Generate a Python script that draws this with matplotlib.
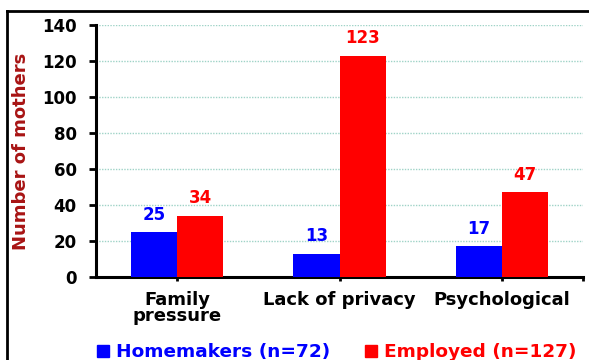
import matplotlib
matplotlib.use("Agg")
import matplotlib.pyplot as plt
from matplotlib.lines import Line2D
import numpy as np

plt.rcParams['font.family'] = ['DejaVu Sans']
plt.rcParams['font.weight'] = 'bold'

categories = ["Family\npressure", "Lack of privacy", "Psychological"]
homemakers = [25, 13, 17]
employed = [34, 123, 47]
series_labels = ["Homemakers (n=72)", "Employed (n=127)"]
yticks = [0, 20, 40, 60, 80, 100, 120, 140]

blue = "#0000ff"
red = "#ff0000"
dark_red = "#a81414"

fig = plt.figure(figsize=(5.89, 3.60), dpi=100)
ax = fig.add_axes([96/589, 1-277/360, (583-96)/589, (277-25)/360])

x = np.arange(len(categories))
w = 0.284
b1 = ax.bar(x - w/2, homemakers, w, color=blue, zorder=3)
b2 = ax.bar(x + w/2, employed, w, color=red, zorder=3)

for rect, v in zip(b1, homemakers):
    ax.annotate(str(v), (rect.get_x() + rect.get_width()/2, v), xytext=(0, 6),
                textcoords="offset points", ha="center", va="bottom",
                color=blue, fontsize=12, fontweight="bold")
for rect, v in zip(b2, employed):
    ax.annotate(str(v), (rect.get_x() + rect.get_width()/2, v), xytext=(0, 6),
                textcoords="offset points", ha="center", va="bottom",
                color=red, fontsize=12, fontweight="bold")

ax.set_xlim(-0.5, 2.5)
ax.set_ylim(0, 140)
ax.set_yticks(yticks)
ax.set_yticklabels([str(t) for t in yticks], fontsize=12, fontweight="bold")
ax.set_xticks(x)
ax.set_xticklabels(categories, fontsize=13, fontweight="bold", linespacing=0.9)
ax.set_xticks([2.5], minor=True)
ax.tick_params(axis='y', length=5, width=2, pad=9)
ax.tick_params(axis='x', which='both', length=3, width=2, pad=7)

ax.yaxis.grid(True, linestyle=(0, (1, 1)), color="#9fd3c7", linewidth=1.0, zorder=0)
ax.set_axisbelow(True)

for s in ['top', 'right']:
    ax.spines[s].set_visible(False)
ax.spines['left'].set_linewidth(2.2)
ax.spines['bottom'].set_linewidth(2.2)

ax.set_ylabel("Number of mothers", color=dark_red, fontsize=13, fontweight="bold")
ax.yaxis.set_label_coords(-0.136, 0.5)

handles = [Line2D([], [], linestyle='none', marker='s', markersize=8, color=blue),
           Line2D([], [], linestyle='none', marker='s', markersize=8, color=red)]
leg = fig.legend(handles, series_labels, loc='center', bbox_to_anchor=(336/589, 1-352/360),
                 ncol=2, frameon=False, handlelength=0.8, handletextpad=0.3,
                 columnspacing=1.8, prop={'weight': 'bold', 'size': 13.3},
                 labelcolor=[blue, red], borderpad=0)

# figure frame (left and top edges)
fig.add_artist(Line2D([7/589, 7/589], [0, 1-11/360], transform=fig.transFigure, color='black', linewidth=2))
fig.add_artist(Line2D([7/589, 1], [1-11/360, 1-11/360], transform=fig.transFigure, color='black', linewidth=2))

fig.savefig("out.png", dpi=100)
